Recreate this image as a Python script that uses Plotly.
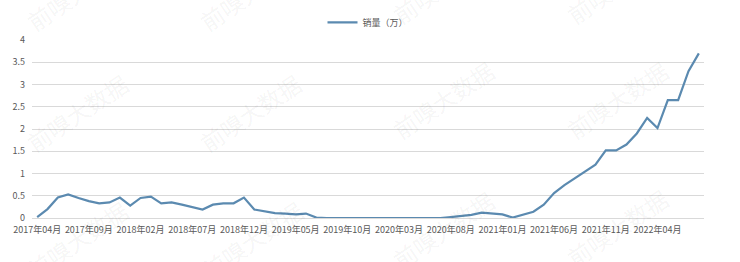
import plotly.graph_objects as go

months = [f"{y}年{m:02d}月" for y in range(2017, 2023) for m in range(1, 13)]
months = months[months.index("2017年04月"):months.index("2022年08月") + 1]

sales = [0.02, 0.2, 0.46, 0.53, 0.45, 0.38, 0.33, 0.35, 0.46, 0.28,
         0.45, 0.48, 0.33, 0.35, 0.30, 0.25, 0.19, 0.30, 0.33, 0.33,
         0.46, 0.19, 0.15, 0.11, 0.10, 0.08, 0.10, 0.01, 0.0, 0.0,
         0.0, 0.0, 0.0, 0.0, 0.0, 0.0, 0.0, 0.0, 0.0, 0.0,
         0.02, 0.05, 0.07, 0.12, 0.10, 0.08, 0.01, 0.07, 0.14, 0.30,
         0.56, 0.74, 0.90, 1.05, 1.20, 1.52, 1.52, 1.65, 1.90, 2.25,
         2.02, 2.65, 2.65, 3.30, 3.70]

tick_labels = months[::5]
y_ticks = [0, 0.5, 1, 1.5, 2, 2.5, 3, 3.5, 4]
watermark = "前嗅大数据"

font = "Noto Sans CJK SC"
L, R, T, B = 32, 36, 40, 44
W, H = 740, 262
pw, ph = W - L - R, H - T - B

fig = go.Figure()
fig.add_trace(go.Scatter(x=months, y=sales, mode="lines", name="销量（万）",
                         line=dict(color="#5b8ab0", width=2.2)))

wm_pos = [(77, -8), (250, -8), (443, -15), (617, -15),
          (77, 113), (250, 113), (443, 100), (617, 100),
          (77, 240), (252, 240), (443, 230), (617, 228)]
for (px, py) in wm_pos:
    fig.add_annotation(x=(px - L) / pw, y=(H - B - py) / ph, xref="paper", yref="paper",
                       xanchor="center", yanchor="middle",
                       text=watermark, showarrow=False, textangle=-34,
                       font=dict(family=font, size=23, color="rgba(0,0,0,0.055)"))

fig.update_layout(
    width=W, height=H,
    margin=dict(l=L, r=R, t=T, b=B, autoexpand=False),
    paper_bgcolor="white", plot_bgcolor="white",
    font=dict(family=font, size=9, color="#595959"),
    showlegend=True,
    legend=dict(orientation="h", x=0.5, xanchor="center", y=0.97, yanchor="top",
                yref="container", font=dict(size=9, color="#595959")),
    xaxis=dict(type="category", tickmode="array", tickvals=tick_labels,
               ticktext=tick_labels, tickangle=0, showgrid=False,
               showline=True, linecolor="#d9d9d9", ticks="",
               ticklabelstandoff=3,
               range=[-0.5, len(months) - 0.5], fixedrange=True),
    yaxis=dict(range=[0, 4.0], tickvals=y_ticks,
               ticktext=[f"{v:g}" for v in y_ticks],
               showgrid=True, gridcolor="#d9d9d9", gridwidth=1,
               zeroline=True, zerolinecolor="#d9d9d9", ticks="",
               ticklabelstandoff=6),
)
fig.write_html("out.html")
